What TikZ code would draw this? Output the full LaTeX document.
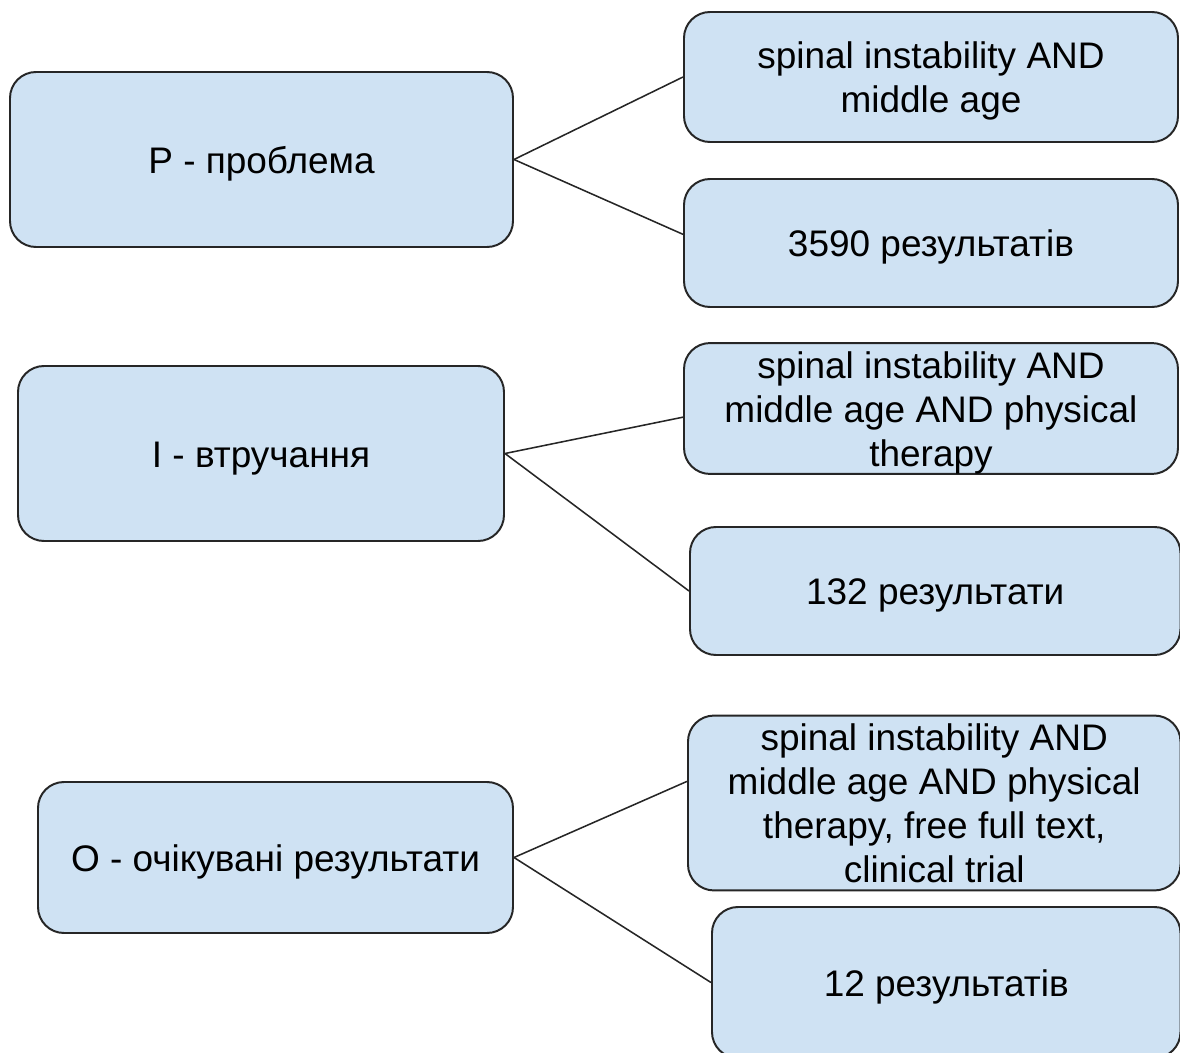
\documentclass[tikz,border=0pt]{standalone}
\usepackage{fontspec}
\setmainfont{Liberation Sans}
\definecolor{boxblue}{HTML}{CFE2F3}
\newcommand\gstrut{\rule[-0.212em]{0pt}{1.16em}}

\begin{document}
\begin{tikzpicture}[box/.style={draw=black!85,line width=1.4pt,fill=boxblue,rounded corners=0.65cm,inner sep=0pt,align=center,font=\fontsize{26.3}{31.3}\selectfont,execute at begin node=\gstrut},
link/.style={draw=black!85,line width=1.1pt}]
\useasboundingbox (0,0) rectangle (29.5,-26.325);
\node[box,minimum width=12.575cm,minimum height=4.375cm] (P) at (6.5375,-3.9875){P - проблема};
\node[box,minimum width=12.35cm,minimum height=3.25cm] (s1) at (23.275,-1.925){\gstrut spinal instability AND\\middle age\gstrut};
\node[box,minimum width=12.35cm,minimum height=3.2cm] (r1) at (23.275,-6.075){3590 результатів};
\node[box,minimum width=12.15cm,minimum height=4.375cm] (I) at (6.525,-11.3375){I - втручання};
\node[box,minimum width=12.35cm,minimum height=3.225cm] (s2) at (23.275,-10.2125){\gstrut spinal instability AND\\middle age AND physical\\therapy\gstrut};
\node[box,minimum width=12.2625cm,minimum height=3.2cm] (r2) at (23.381,-14.775){132 результати};
\node[box,minimum width=11.875cm,minimum height=3.775cm] (O) at (6.8875,-21.4375){O - очікувані результати};
\node[box,minimum width=12.3125cm,minimum height=4.35cm] (s3) at (23.356,-20.075){\gstrut spinal instability AND\\middle age AND physical\\therapy, free full text,\\clinical trial\gstrut};
\node[box,minimum width=11.7125cm,minimum height=3.775cm] (r3) at (23.656,-24.5625){12 результатів};
\draw[link] (P.east) -- (s1.west); \draw[link] (P.east) -- (r1.178);
\draw[link] (I.east) -- (s2.182); \draw[link] (I.east) -- (r2.west);
\draw[link] (O.east) -- (s3.175); \draw[link] (O.east) -- (r3.west);
\end{tikzpicture}
\end{document}
